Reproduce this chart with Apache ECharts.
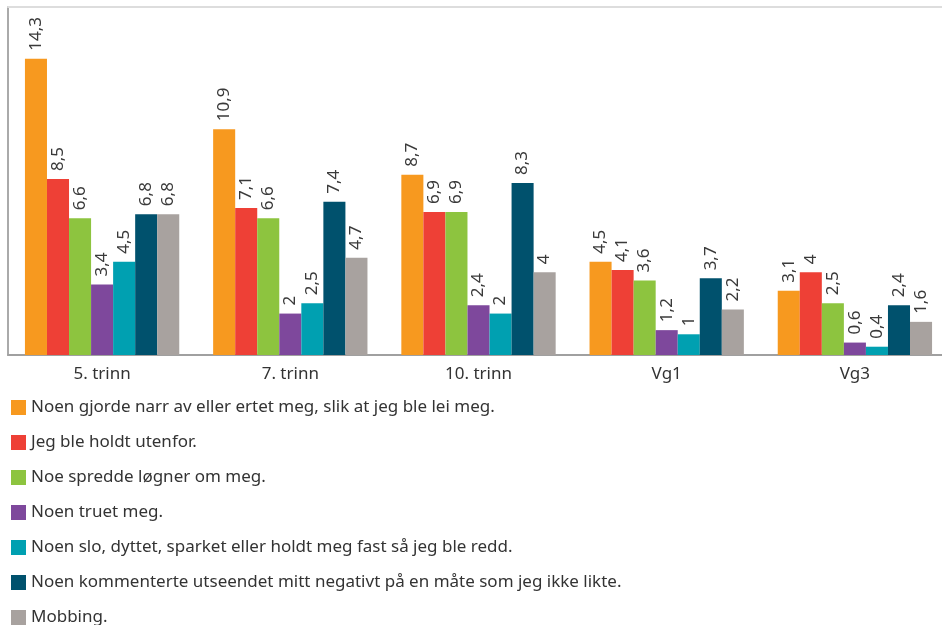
<!DOCTYPE html>
<html><head><meta charset="utf-8">
<script src="https://cdn.jsdelivr.net/npm/echarts@6/dist/echarts.min.js"></script>
<style>html,body{margin:0;padding:0;background:#fff;overflow:hidden}#c{width:960px;height:625px}</style>
</head><body><div id="c"></div>
<script>
const categories = ['5. trinn', '7. trinn', '10. trinn', 'Vg1', 'Vg3'];
const seriesNames = [
  'Noen gjorde narr av eller ertet meg, slik at jeg ble lei meg.',
  'Jeg ble holdt utenfor.',
  'Noe spredde løgner om meg.',
  'Noen truet meg.',
  'Noen slo, dyttet, sparket eller holdt meg fast så jeg ble redd.',
  'Noen kommenterte utseendet mitt negativt på en måte som jeg ikke likte.',
  'Mobbing.'
];
const narr = [14.3, 10.9, 8.7, 4.5, 3.1];
const utenfor = [8.5, 7.1, 6.9, 4.1, 4];
const logner = [6.6, 6.6, 6.9, 3.6, 2.5];
const truet = [3.4, 2, 2.4, 1.2, 0.6];
const slo = [4.5, 2.5, 2, 1, 0.4];
const utseende = [6.8, 7.4, 8.3, 3.7, 2.4];
const mobbing = [6.8, 4.7, 4, 2.2, 1.6];
const values = [narr, utenfor, logner, truet, slo, utseende, mobbing];
const colors = ['#F7991F', '#EE4036', '#8DC43F', '#7E489C', '#00A0B1', '#00516D', '#A8A29F'];

const font = 'Noto Sans';
const chart = echarts.init(document.getElementById('c'));
chart.setOption({
  animation: false,
  textStyle: { fontFamily: font },
  grid: { left: 8, width: 941, top: 7, height: 348, containLabel: false },
  legend: {
    orient: 'vertical', left: 6, top: 394, height: 400,
    itemWidth: 15, itemHeight: 15, itemGap: 18,
    icon: 'rect',
    textStyle: { fontSize: 17, color: '#333', fontFamily: font, lineHeight: 15, padding: [0, 0, 0, 0] },
    data: seriesNames
  },
  xAxis: [{
    type: 'category', data: categories,
    axisLine: { lineStyle: { color: '#A0A0A0', width: 2 } },
    axisTick: { show: false },
    axisLabel: { fontSize: 17, color: '#333', margin: 11, fontFamily: font }
  }, {
    type: 'category', data: categories, position: 'top',
    axisLine: { lineStyle: { color: '#DDDDDD', width: 2 } },
    axisTick: { show: false }, axisLabel: { show: false }
  }],
  yAxis: {
    type: 'value', min: 0, max: 16.8,
    axisLine: { show: true, lineStyle: { color: '#AAAAAA', width: 2 } },
    axisTick: { show: false }, axisLabel: { show: false }, splitLine: { show: false }
  },
  series: values.map((v, i) => ({
    name: seriesNames[i], type: 'bar', data: v,
    barGap: '0%', barCategoryGap: '18%',
    itemStyle: { color: colors[i] },
    label: {
      show: true, position: 'top', rotate: 90, align: 'left', verticalAlign: 'middle',
      distance: 8, fontSize: 17, color: '#3a3a3a', fontFamily: font,
      formatter: p => String(p.value).replace('.', ',')
    }
  }))
});
</script></body></html>
